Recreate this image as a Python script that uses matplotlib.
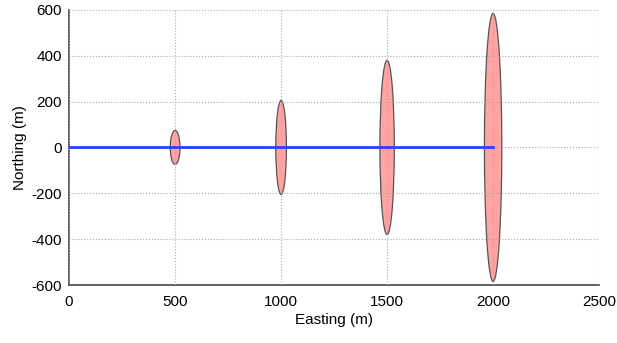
import matplotlib
matplotlib.use("Agg")
import matplotlib.pyplot as plt
from matplotlib.patches import Ellipse

plt.rcParams['font.family'] = ['Liberation Sans', 'DejaVu Sans']
plt.rcParams['axes.unicode_minus'] = False

# track and uncertainty ellipses
track_x = [0, 500, 1000, 1500, 2000]
track_y = [0, 0, 0, 0, 0]
ell_x = [500, 1000, 1500, 2000]
ell_y = [0, 0, 0, 0]
ell_semi_e = [23, 25, 34, 41]
ell_semi_n = [74, 205, 380, 585]


def plot_track():
    fig = plt.figure(figsize=(6.17, 3.43), dpi=100)
    ax = fig.add_axes([0.112, 0.169, 0.859, 0.802])
    for x, y, a, b in zip(ell_x, ell_y, ell_semi_e, ell_semi_n):
        e = Ellipse((x, y), 2 * a, 2 * b, facecolor='#ffa3a3',
                    edgecolor='#555555', linewidth=0.9, zorder=2)
        ax.add_patch(e)
    ax.plot(track_x, track_y, color='#2244ff', linewidth=2, zorder=3)

    ax.set_xlim(0, 2500)
    ax.set_ylim(-600, 600)
    ax.set_xticks(range(0, 2501, 500))
    ax.set_yticks(range(-600, 601, 200))
    ax.set_axisbelow(False)
    ax.grid(True, linestyle=':', color='#aaaaaa', linewidth=0.8)
    for s in ['top', 'right']:
        ax.spines[s].set_visible(False)
    for s in ['left', 'bottom']:
        ax.spines[s].set_color('#444444')
        ax.spines[s].set_linewidth(1.2)
    ax.tick_params(length=0, labelsize=11)
    ax.tick_params(axis='x', pad=7)
    ax.tick_params(axis='y', pad=5)
    ax.set_xlabel("Easting (m)", fontsize=11, labelpad=3)
    ax.set_ylabel("Northing (m)", fontsize=11, labelpad=3)
    fig.savefig("out.png", dpi=100)


if __name__ == "__main__":
    plot_track()
